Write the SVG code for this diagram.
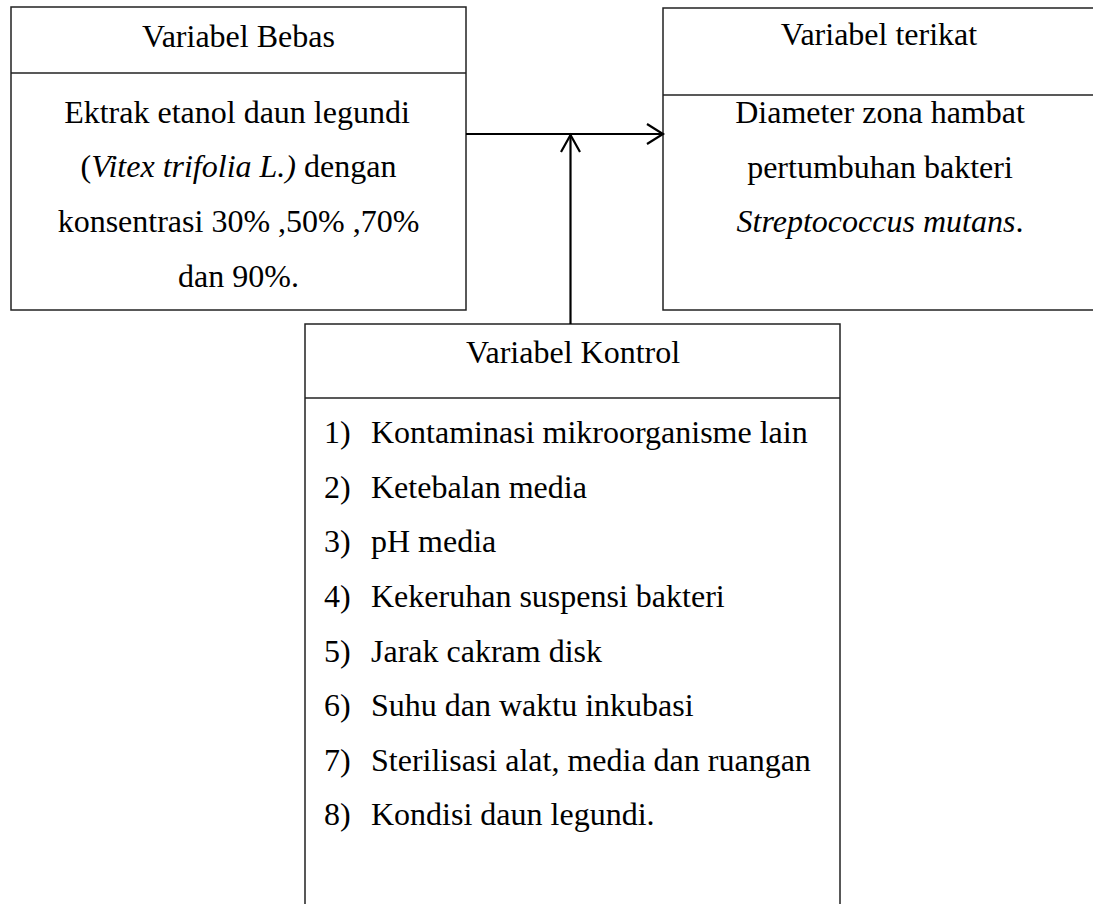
<svg xmlns="http://www.w3.org/2000/svg" width="1093" height="904" viewBox="0 0 1093 904">
<style>
.box{fill:#fff;stroke:#222;stroke-width:1.5}
.div{stroke:#222;stroke-width:1.5}
text{font-family:"Liberation Serif","Times New Roman",serif;font-size:32px;fill:#000}
.c{text-anchor:middle}
.conn{stroke:#000;stroke-width:2.2;fill:none}
</style>
<rect width="1093" height="904" fill="#fff"/>
<g id="bebas">
<rect class="box" x="11" y="7" width="455" height="303"/>
<line class="div" x1="11" y1="73" x2="466" y2="73"/>
<text class="c" x="238.5" y="47">Variabel Bebas</text>
<text class="c" x="237" y="123">Ektrak etanol daun legundi</text>
<text class="c" x="238.5" y="177">(<tspan font-style="italic">Vitex trifolia L.)</tspan> dengan</text>
<text class="c" x="238.5" y="232">konsentrasi 30% ,50% ,70%</text>
<text class="c" x="238.5" y="287">dan 90%.</text>
</g>
<g id="terikat">
<rect class="box" x="663" y="8" width="440" height="302"/>
<line class="div" x1="663" y1="95" x2="1093" y2="95"/>
<text class="c" x="879" y="45">Variabel terikat</text>
<text class="c" x="880" y="123">Diameter zona hambat</text>
<text class="c" x="880" y="178">pertumbuhan bakteri</text>
<text class="c" x="880" y="232"><tspan font-style="italic">Streptococcus mutans</tspan>.</text>
</g>
<g id="kontrol">
<rect class="box" x="305" y="324" width="535" height="600"/>
<line class="div" x1="305" y1="398" x2="840" y2="398"/>
<text class="c" x="573" y="363">Variabel Kontrol</text>
<text x="324" y="443">1)</text><text x="371" y="443">Kontaminasi mikroorganisme lain</text>
<text x="324" y="498">2)</text><text x="371" y="498">Ketebalan media</text>
<text x="324" y="552">3)</text><text x="371" y="552">pH media</text>
<text x="324" y="607">4)</text><text x="371" y="607">Kekeruhan suspensi bakteri</text>
<text x="324" y="662">5)</text><text x="371" y="662">Jarak cakram disk</text>
<text x="324" y="716">6)</text><text x="371" y="716">Suhu dan waktu inkubasi</text>
<text x="324" y="771">7)</text><text x="371" y="771">Sterilisasi alat, media dan ruangan</text>
<text x="324" y="825">8)</text><text x="371" y="825">Kondisi daun legundi.</text>
</g>
<g id="connectors">
<line class="conn" x1="466" y1="134" x2="663" y2="134"/>
<polyline class="conn" points="647,124 663,134 647,144"/>
<line class="conn" x1="570.5" y1="324" x2="570.5" y2="135"/>
<polyline class="conn" points="561,152 570.5,135 580,152"/>
</g>
</svg>
